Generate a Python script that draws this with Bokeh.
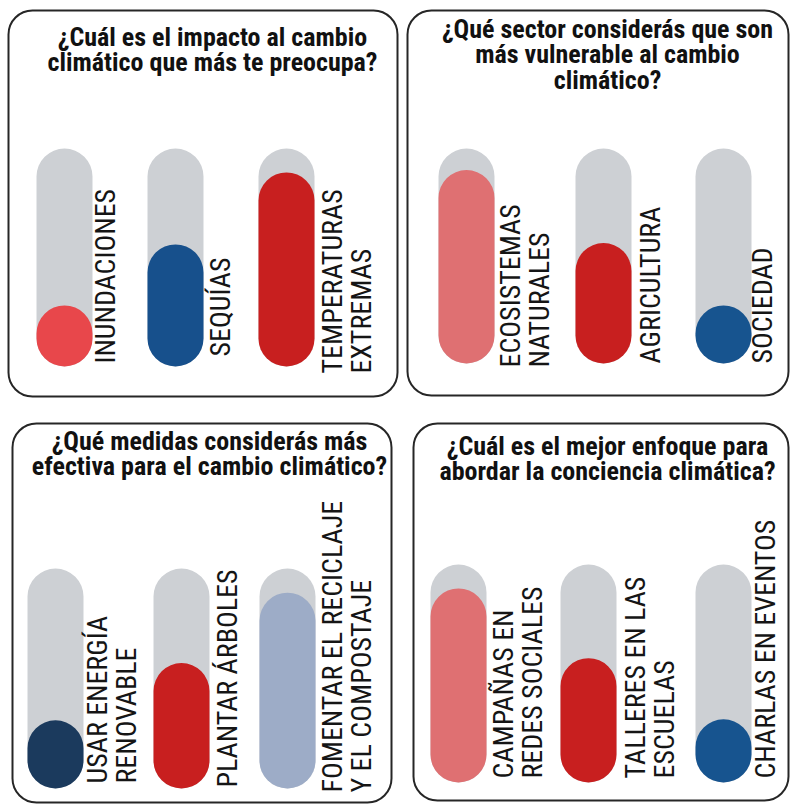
from bokeh.plotting import figure
from bokeh.models import Range1d, BoxAnnotation, ColumnDataSource
from bokeh.core.properties import value
from bokeh.embed import file_html
from bokeh.resources import INLINE
import math

# ---------------- data ----------------
titles = [
    "¿Cuál es el impacto al cambio\nclimático que más te preocupa?",
    "¿Qué sector considerás que son\nmás vulnerable al cambio\nclimático?",
    "¿Qué medidas considerás más\nefectiva para el cambio climático?",
    "¿Cuál es el mejor enfoque para\nabordar la conciencia climática?",
]
q1_labels = ["INUNDACIONES", "SEQUÍAS", "TEMPERATURAS\nEXTREMAS"]
q1_values = [28, 56, 89]
q2_labels = ["ECOSISTEMAS\nNATURALES", "AGRICULTURA", "SOCIEDAD"]
q2_values = [90, 56, 27]
q3_labels = ["USAR ENERGÍA\nRENOVABLE", "PLANTAR ÁRBOLES", "FOMENTAR EL RECICLAJE\nY EL COMPOSTAJE"]
q3_values = [31, 57, 89]
q4_labels = ["CAMPAÑAS EN\nREDES SOCIALES", "TALLERES EN LAS\nESCUELAS", "CHARLAS EN EVENTOS"]
q4_values = [89, 57, 29]
track_max = 100

# ---------------- styles / layout ----------------
GREY = "#cdd0d4"
q1_colors = ["#e8474b", "#17508c", "#c81f1f"]
q2_colors = ["#df7072", "#c81f1f", "#17548f"]
q3_colors = ["#1b3a5d", "#c81f1f", "#9dacc7"]
q4_colors = ["#df7072", "#c81f1f", "#17548f"]

TITLE_FONT = "'Liberation Sans Narrow', 'Roboto Condensed', Roboto, sans-serif"
LABEL_FONT = "'Liberation Sans Narrow', 'Roboto Condensed', Roboto, sans-serif"

W, H = 792, 805
PILL_W = 56
PILL_R = 28

panels = [
    dict(labels=q1_labels, values=q1_values, colors=q1_colors, title=titles[0],
         box=(8, 397, 10, 396), title_xy=(212, 21), xs=[64, 175, 286], base=366, top=148,
         label_x=[88, 203, 315], label_y=[363, 356, 373]),
    dict(labels=q2_labels, values=q2_values, colors=q2_colors, title=titles[1],
         box=(407, 788, 10, 395), title_xy=(607, 13), xs=[466, 603, 723], base=363, top=148,
         label_x=[493, 633, 745], label_y=[367, 363, 363]),
    dict(labels=q3_labels, values=q3_values, colors=q3_colors, title=titles[2],
         box=(12, 391, 423, 802), title_xy=(209, 425), xs=[55, 181, 287], base=788, top=568,
         label_x=[80, 210, 315], label_y=[783, 787, 792]),
    dict(labels=q4_labels, values=q4_values, colors=q4_colors, title=titles[3],
         box=(413, 788, 423, 800), title_xy=(607, 430), xs=[458, 588, 723], base=782, top=564,
         label_x=[486, 618, 748], label_y=[778, 778, 778]),
]

p = figure(width=W, height=H, x_range=Range1d(0, W), y_range=Range1d(H, 0),
           x_axis_type=None, y_axis_type=None, toolbar_location=None,
           output_backend="svg", min_border=0)
p.grid.visible = False
p.outline_line_color = None
p.background_fill_color = "white"

for i, pn in enumerate(panels):
    name = f"q{i+1}"
    span = pn["base"] - pn["top"]
    start = track_max * (pn["base"] - H) / span
    end = track_max * pn["base"] / span
    p.extra_y_ranges[name] = Range1d(start, end)

    l, r, t, b = pn["box"]
    p.add_layout(BoxAnnotation(left=l, right=r, top=t, bottom=b, fill_alpha=0,
                               line_color="#262626", line_alpha=1.0, line_width=2,
                               border_radius=24))

    src = ColumnDataSource(dict(x=pn["xs"], v=pn["values"], c=pn["colors"],
                                tmax=[track_max] * 3, zero=[0] * 3))
    p.vbar(x="x", width=PILL_W, bottom="zero", top="tmax", source=src,
           fill_color=GREY, line_color=None, border_radius=PILL_R, y_range_name=name)
    p.vbar(x="x", width=PILL_W, bottom="zero", top="v", source=src,
           fill_color="c", line_color=None, border_radius=PILL_R, y_range_name=name)

    lsrc = ColumnDataSource(dict(x=pn["label_x"], y=pn["label_y"], t=pn["labels"]))
    p.text(x="x", y="y", text="t", source=lsrc, angle=math.pi / 2,
           text_align="left", text_baseline="top", text_font=value(LABEL_FONT),
           text_font_size="28px", text_color="#151515", text_line_height=0.88)

    tx, ty = pn["title_xy"]
    p.text(x=[tx], y=[ty], text=[pn["title"]], text_align="center", text_baseline="top",
           text_font=value(TITLE_FONT), text_font_style="bold", text_font_size="26px",
           text_color="#111111", text_line_height=0.86)

open("out.html", "w").write(file_html(p, INLINE))
